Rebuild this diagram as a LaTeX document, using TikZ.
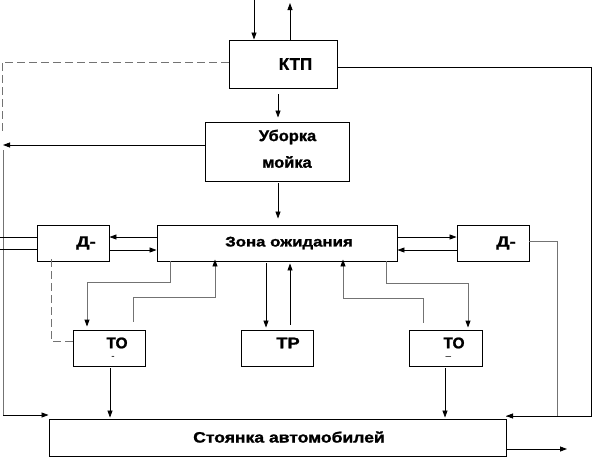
\documentclass[tikz,border=0pt]{standalone}
\usepackage{fontspec}
\setmainfont{Liberation Sans}[BoldFeatures={FakeBold=1.2}]
\usetikzlibrary{arrows.meta}
\begin{document}
\begin{tikzpicture}[x=1pt,y=-1pt,
  box/.style={draw,line width=0.9pt,inner sep=0pt},
  lbl/.style={inner sep=0pt,font=\bfseries},
  ln/.style={line width=0.8pt},
  gln/.style={line width=0.9pt,draw=black!55},
  dsh/.style={line width=0.9pt,draw=black!55,dash pattern=on 8pt off 4pt},
  arr/.style={ln,-{Triangle[length=7pt,width=5pt]}},
  garr/.style={gln,-{Triangle[length=7pt,width=5pt,color=black]}}]
\useasboundingbox (0,0) rectangle (596,458);
% boxes
\node[box,minimum width=108pt,minimum height=48pt] (ktp) at (283,64) {};
\node[box,minimum width=144pt,minimum height=59pt] (ub) at (277,151.5) {};
\node[box,minimum width=240pt,minimum height=36pt] (zona) at (277,243) {};
\node[box,minimum width=72pt,minimum height=36pt] (d1) at (73,243) {};
\node[box,minimum width=72pt,minimum height=36pt] (d2) at (493,243) {};
\node[box,minimum width=72pt,minimum height=36pt] (to1) at (109,348) {};
\node[box,minimum width=72pt,minimum height=36pt] (tr) at (277,348) {};
\node[box,minimum width=73pt,minimum height=36pt] (to2) at (445.5,348) {};
\node[box,minimum width=457pt,minimum height=37pt] (st) at (277.5,437.5) {};
% texts
\node[lbl,font=\bfseries\fontsize{17}{20}\selectfont] (tktp) at (295.5,64) {КТП};
\node[lbl,font=\bfseries\fontsize{15.5}{18}\selectfont] (tub1) at (287.5,137) {\scalebox{1.06}[1]{Уборка}};
\node[lbl,font=\bfseries\fontsize{15.5}{18}\selectfont] (tub2) at (287,162) {\scalebox{1.06}[1]{мойка}};
\node[lbl,font=\bfseries\fontsize{14}{17}\selectfont] (tzona) at (289,243) {\scalebox{1.2}[1]{Зона ожидания}};
\node[lbl,font=\bfseries\fontsize{15}{18}\selectfont] (td1) at (86,243) {\scalebox{1.25}[1]{Д-}};
\node[lbl,font=\bfseries\fontsize{15}{18}\selectfont] (td2) at (506,243) {\scalebox{1.25}[1]{Д-}};
\node[lbl,font=\bfseries\fontsize{15.5}{18}\selectfont] (tto1) at (117,343) {ТО};
\node[lbl,font=\fontsize{10}{11}\selectfont] (mto1) at (113,357.5) {-};
\node[lbl,font=\bfseries\fontsize{15.5}{18}\selectfont] (ttr) at (288,343) {\scalebox{1.18}[1]{ТР}};
\node[lbl,font=\bfseries\fontsize{15.5}{18}\selectfont] (tto2) at (454,343) {ТО};
\node[lbl,font=\fontsize{10}{11}\selectfont] (mto2) at (448.5,358.5) {–};
\node[lbl,font=\bfseries\fontsize{15}{18}\selectfont] (tst) at (289,437) {\scalebox{1.17}[1]{Стоянка автомобилей}};
% free ends
\coordinate (in1) at (254,0);
\coordinate (out1) at (290,3);
\coordinate (lft) at (3,145);
\coordinate (dtop) at (2,62);
\coordinate (dbot) at (2,135);
\coordinate (vtop) at (3,150);
\coordinate (vbot) at (3,415);
\coordinate (e1) at (0,237);
\coordinate (e2) at (0,249);
\coordinate (cr1) at (557,241);
\coordinate (cr2) at (557,416);
\coordinate (kr1) at (591,67);
\coordinate (kr2) at (591,416);
\coordinate (stin) at (506,416);
\coordinate (stout) at (567,449);
% connectors
\draw[arr] (in1) -- (in1 |- ktp.north);
\draw[arr] (ktp.north -| out1) -- (out1);
\draw[arr,shorten <=6pt,shorten >=4pt] (ktp.south -| 278,0) -- (ub.north -| 278,0);
\draw[arr,shorten <=2pt,shorten >=6pt] (ub.south -| 278,0) -- (zona.north -| 278,0);
\draw[arr] (ub.west |- lft) -- (lft);
\draw[dsh] (ktp.west |- dtop) -- (dtop) -- (dbot);
\draw[gln] (vtop) -- (vbot) -- ++(30,0);
\draw[arr] (vbot) -- (vbot -| st.west);
\draw[ln] (e1) -- (d1.west |- e1);
\draw[ln] (e2) -- (d1.west |- e2);
\draw[arr] (zona.west |- 0,237) -- (d1.east |- 0,237);
\draw[arr] (d1.east |- 0,250) -- (zona.west |- 0,250);
\draw[arr] (zona.east |- 0,237) -- (d2.west |- 0,237);
\draw[arr] (d2.west |- 0,250) -- (zona.east |- 0,250);
\draw[gln] (d2.east |- cr1) -- (cr1) -- (cr2) -- (stin);
\draw[ln] (ktp.east |- kr1) -- (kr1) -- (kr2) -- (cr2);
\draw[arr] (cr2) -- (stin);
\draw[garr] (zona.south -| 170,0) -- (170,282) -- (87,282) -- ([yshift=3pt]to1.north -| 87,0);
\draw[garr] ([yshift=8pt]to1.north -| 133,0) -- (133,297) -- (215,297) -- ([yshift=2pt]zona.south -| 215,0);
\draw[dsh] ([yshift=2pt]d1.south -| 51,0) -- (51,341) -- (to1.west |- 0,341);
\draw[arr,shorten <=2pt,shorten >=2pt] (zona.south -| 266,0) -- (tr.north -| 266,0);
\draw[arr,shorten <=5pt,shorten >=2pt] (tr.north -| 290,0) -- (zona.south -| 290,0);
\draw[garr] (zona.south -| 386,0) -- (386,283) -- (468,283) -- ([yshift=2pt]to2.north -| 468,0);
\draw[garr] ([yshift=7pt]to2.north -| 423,0) -- (423,298) -- (343,298) -- ([yshift=2pt]zona.south -| 343,0);
\draw[arr,shorten <=2pt,shorten >=1pt] (to1.south -| 110,0) -- (st.north -| 110,0);
\draw[arr,shorten <=2pt,shorten >=1pt] (to2.south -| 445,0) -- (st.north -| 445,0);
\draw[arr] (st.east |- stout) -- (stout);
\end{tikzpicture}
\end{document}
